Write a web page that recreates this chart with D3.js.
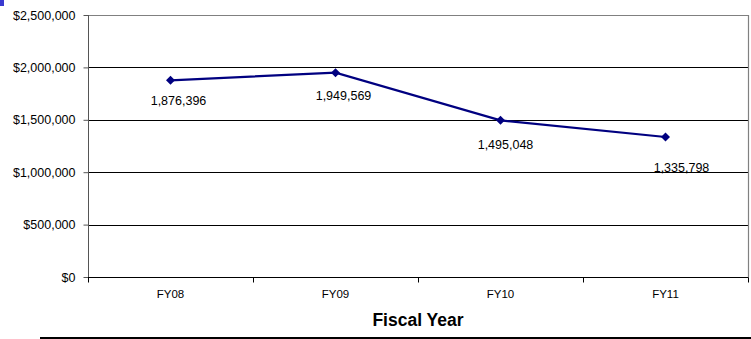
<!DOCTYPE html>
<html>
<head>
<meta charset="utf-8">
<script src="https://cdn.jsdelivr.net/npm/d3@7"></script>
<style>
  html, body { margin: 0; padding: 0; background: #fff; }
  svg { display: block; }
</style>
</head>
<body>
<svg id="chart" width="751" height="339"></svg>
<script>
// Fiscal years and yearly totals
const years = ["FY08", "FY09", "FY10", "FY11"];
const totals = [1876396, 1949569, 1495048, 1335798];
const yTicks = [0, 500000, 1000000, 1500000, 2000000, 2500000];

// Per-point label nudges (dx, dy) below each marker
const labelNudge = [[8, 25], [8, 27], [5, 29], [16, 35]];

const W = 751, H = 339;
const m = { left: 88, right: 748, top: 15, bottom: 277 };
const svg = d3.select("#chart");
const font = "'Liberation Sans', Arial, sans-serif";

const x = d3.scaleBand().domain(years).range([m.left, m.right]);
const y = d3.scaleLinear().domain([0, 2500000]).range([m.bottom, m.top]);

// small corner swatch
svg.append("rect").attr("x", 0).attr("y", 0).attr("width", 4).attr("height", 6).attr("fill", "#3a3ad0");

// horizontal gridlines
svg.append("g").selectAll("line")
  .data(yTicks.filter(d => d > 0 && d < 2500000))
  .join("line")
  .attr("x1", m.left).attr("x2", m.right)
  .attr("y1", d => Math.round(y(d)) + 0.5).attr("y2", d => Math.round(y(d)) + 0.5)
  .attr("stroke", "#000").attr("stroke-width", 1);

// plot border (top and right)
svg.append("path")
  .attr("d", `M${m.left},${m.top + 0.5}H${m.right + 0.5}V${m.bottom}`)
  .attr("fill", "none").attr("stroke", "#808080").attr("stroke-width", 1.2);

// y axis
const yAxis = d3.axisLeft(y).tickValues(yTicks).tickSize(5).tickPadding(8)
  .tickFormat(d => "$" + d3.format(",")(d));
const gy = svg.append("g").attr("transform", `translate(${m.left + 0.5},0)`).call(yAxis);
gy.select(".domain").attr("stroke", "#555").attr("d", `M0,${m.top}V${m.bottom}`);
gy.selectAll(".tick line").attr("stroke", "#555");
gy.selectAll(".tick text").attr("font-family", font).attr("font-size", 12.5).attr("fill", "#000");

// x axis with ticks at category boundaries
const gx = svg.append("g").attr("transform", `translate(0,${m.bottom + 0.5})`);
gx.append("line").attr("x1", m.left).attr("x2", m.right + 0.5).attr("stroke", "#000").attr("stroke-width", 1.2);
const bounds = years.map(d => x(d)).concat([m.right]);
gx.selectAll("line.tk").data(bounds).join("line").attr("class", "tk")
  .attr("x1", d => Math.round(d) + 0.5).attr("x2", d => Math.round(d) + 0.5)
  .attr("y1", 0).attr("y2", 5).attr("stroke", "#000");
gx.selectAll("text").data(years).join("text")
  .attr("x", d => x(d) + x.bandwidth() / 2)
  .attr("y", 20)
  .attr("text-anchor", "middle")
  .attr("font-family", font).attr("font-size", 11.5)
  .text(d => d);

// axis title
svg.append("text")
  .attr("x", (m.left + m.right) / 2).attr("y", 326)
  .attr("text-anchor", "middle")
  .attr("font-family", font).attr("font-size", 17.5).attr("font-weight", "bold")
  .text("Fiscal Year");

// bottom rule
svg.append("line").attr("x1", 40).attr("x2", W).attr("y1", 338).attr("y2", 338)
  .attr("stroke", "#000").attr("stroke-width", 2);

// series
const pts = years.map((d, i) => ({ year: d, v: totals[i], i }));
const cx = d => x(d.year) + x.bandwidth() / 2;

svg.append("path")
  .datum(pts)
  .attr("fill", "none").attr("stroke", "#000080").attr("stroke-width", 2.2)
  .attr("d", d3.line().x(cx).y(d => y(d.v)));

svg.append("g").selectAll("path")
  .data(pts).join("path")
  .attr("transform", d => `translate(${cx(d)},${y(d.v)})`)
  .attr("d", "M0,-4.5L4.5,0L0,4.5L-4.5,0Z")
  .attr("fill", "#000080");

svg.append("g").selectAll("text")
  .data(pts).join("text")
  .attr("x", d => cx(d) + labelNudge[d.i][0])
  .attr("y", d => y(d.v) + labelNudge[d.i][1])
  .attr("text-anchor", "middle")
  .attr("font-family", font).attr("font-size", 12.5).attr("fill", "#000")
  .text(d => d3.format(",")(d.v));
</script>
</body>
</html>
